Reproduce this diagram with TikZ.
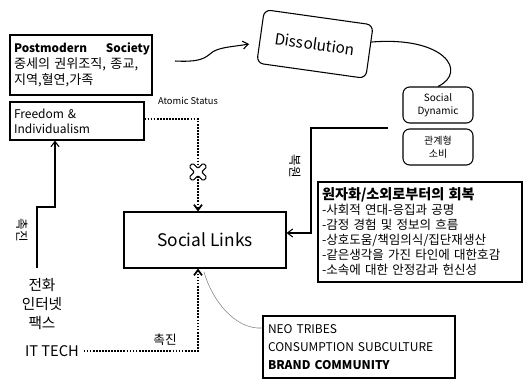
\documentclass[tikz,border=0pt]{standalone}
\usepackage{fontspec}
\setmainfont{Noto Sans CJK KR}
\usetikzlibrary{arrows.meta}

\newcommand{\pxu}{0.75pt}

\tikzset{
	box/.style={draw, thick, inner sep=0pt},
	rbox/.style={draw, thick, rounded corners=5pt, inner sep=0pt, align=center},
	link/.style={thick, -{Straight Barb[length=4pt,width=6pt]}},
	dotlink/.style={link, line width=1.3pt, densely dotted},
}

\begin{document}
\begin{tikzpicture}[x=0.75pt, y=-0.75pt]
				\useasboundingbox (0,0) rectangle (526,383);

				% upper row
				\node[box, minimum width=142*\pxu, minimum height=60*\pxu, text width=134*\pxu, align=left, font=\fontsize{9.8}{12}\selectfont] (pm) at (81,65)
					{\mbox{\fontsize{8.8}{12}\selectfont\bfseries Postmodern\hspace{1.6em}Society}\\중세의 권위조직, 종교,\\지역,혈연,가족};
				\node[rbox, rotate=-8, minimum width=110*\pxu, minimum height=54*\pxu, font=\fontsize{11.5}{14}\selectfont] (dis) at (315,44) {Dissolution};
				\coordinate (pmout) at (175,61);
				\coordinate (disin) at (249,44);
				\draw[link] (pmout) .. controls (195,62) and (203,60) .. (210,54) .. controls (217,47) and (232,47) .. (disin);

				\node[rbox, minimum width=70*\pxu, minimum height=36*\pxu, font=\fontsize{7.5}{9.5}\selectfont] (sd) at (438,105) {Social\\Dynamic};
				\node[rbox, minimum width=70*\pxu, minimum height=36*\pxu, font=\fontsize{7.5}{9.5}\selectfont] (rc) at (438,147) {관계형\\소비};
				\draw[thick] (dis.10) .. controls (445,36) and (468,72) .. (sd.north);

				% centre
				\node[box, minimum width=134*\pxu, minimum height=38*\pxu, text width=126*\pxu, align=left, font=\fontsize{9}{11}\selectfont] (free) at (77,121) {Freedom \&\\Individualism};
				\node[font=\fontsize{7}{8}\selectfont] (atom) at (188,101) {Atomic Status};
				\node[box, minimum width=162*\pxu, minimum height=56*\pxu, font=\fontsize{13}{16}\selectfont] (links) at (205,240) {Social Links};
				\coordinate (ax) at (198,0);
				\draw[dotlink] ([yshift=2*\pxu]free.east) -| (ax |- links.north);
				\draw[thick, fill=white, rounded corners=1pt, rotate around={45:(198,172)}]
					(195.5,162) -- (200.5,162) -- (200.5,169.5) -- (208,169.5) -- (208,174.5) -- (200.5,174.5)
					-- (200.5,182) -- (195.5,182) -- (195.5,174.5) -- (188,174.5) -- (188,169.5) -- (195.5,169.5) -- cycle;

				% left side
				\node[rotate=-90, font=\fontsize{9.5}{11}\selectfont] (promoa) at (22,230) {촉진};
				\node[align=center, font=\fontsize{11}{14.5}\selectfont] (tel) at (42,304) {전화\\인터넷\\팩스};
				\coordinate (telup) at (37,268);
				\draw[link] (telup) |- (55,207) -- (free.south -| 55,0);

				\node[font=\fontsize{11}{12}\selectfont] (it) at (52,351) {IT TECH};
				\node[font=\fontsize{9.5}{10}\selectfont] (promob) at (165,340) {촉진};
				\draw[dotlink] (it.east) -| (ax |- links.south);

				% right side
				\node[box, minimum width=204*\pxu, minimum height=100*\pxu, text width=196*\pxu, align=left, font=\fontsize{9.4}{11.25}\selectfont] (rec) at (420,232)
					{{\bfseries\fontsize{10.6}{12}\selectfont 원자화/소외로부터의 회복}\\-사회적 연대-응집과 공명\\-감정 경험 및 정보의 흐름\\-상호도움/책임의식/집단재생산\\-같은생각을 가진 타인에 대한호감\\-소속에 대한 안정감과 헌신성};
				\coordinate (rcout) at (388,128);
				\draw[link] (rcout) -- (311,128) |- (links.east |- 0,233);
				\node[rotate=-90, font=\fontsize{9.5}{11}\selectfont] (restore) at (295,166) {복원};

				\node[box, minimum width=192*\pxu, minimum height=62*\pxu, text width=182*\pxu, align=left, font=\fontsize{9}{13.5}\selectfont] (neo) at (359,347)
					{NEO TRIBES\\CONSUMPTION SUBCULTURE\\\textbf{BRAND COMMUNITY}};
				\coordinate (neotip) at (204,272);
				\draw[gray, thin] (neo.west |- 0,328) .. controls (235,330) and (212,300) .. (neotip);
			\end{tikzpicture}
\end{document}
